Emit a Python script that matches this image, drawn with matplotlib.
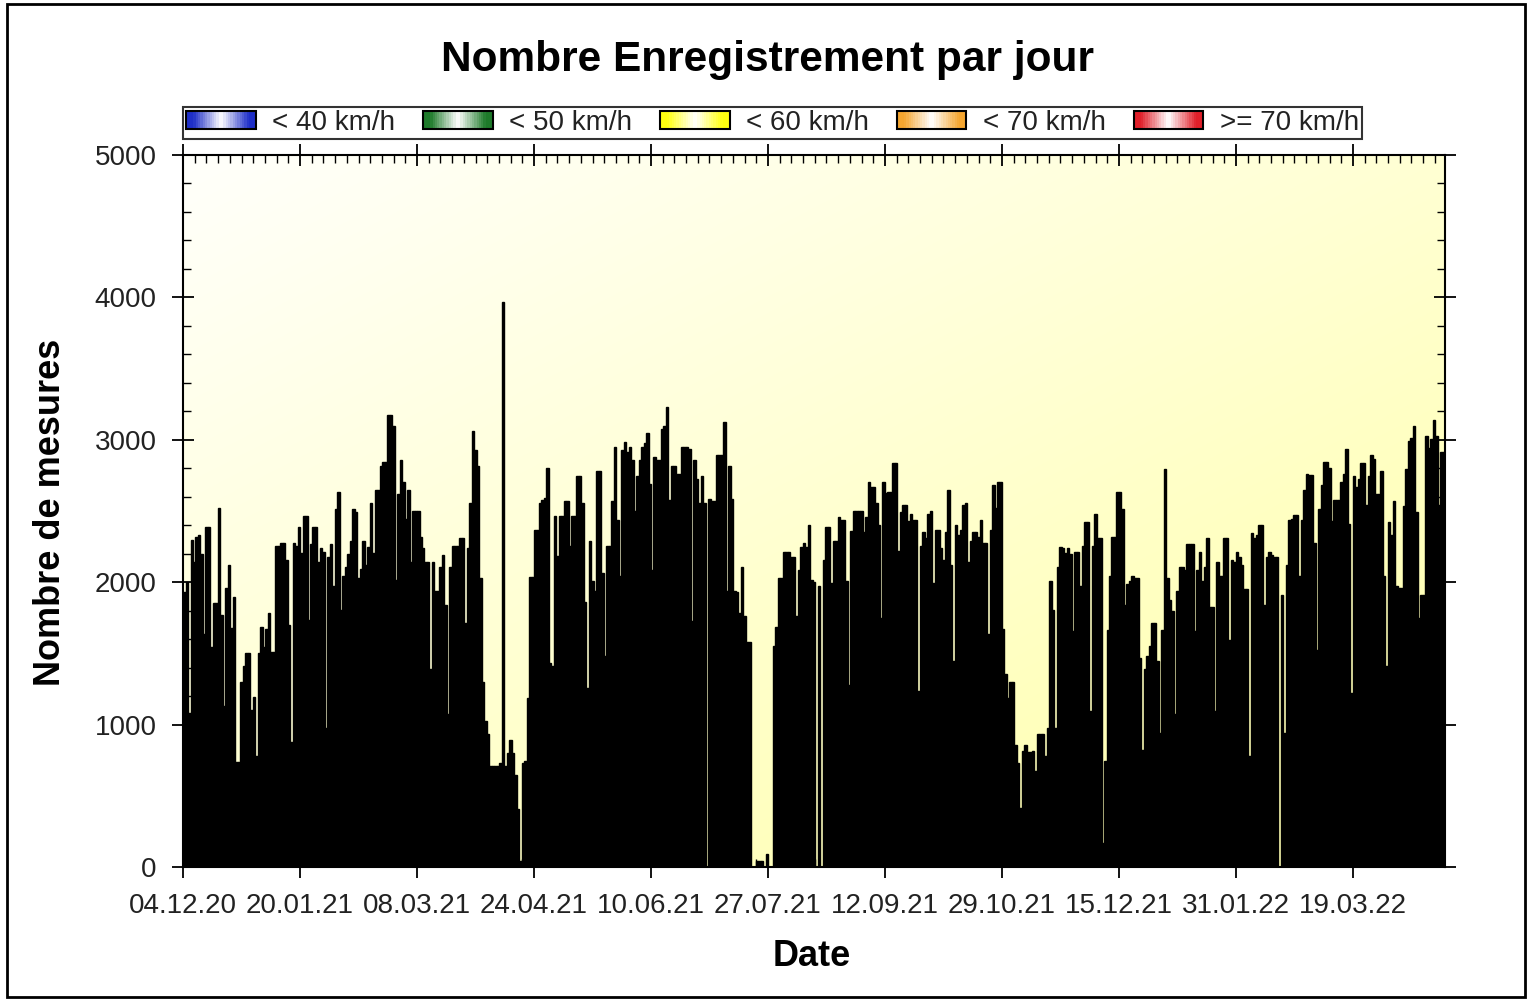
import matplotlib
matplotlib.use("Agg")
import matplotlib.pyplot as plt
import matplotlib.dates as mdates
import matplotlib.colors as mcolors
from matplotlib.legend_handler import HandlerBase
from matplotlib.patches import Patch, Rectangle
from matplotlib.ticker import FixedLocator, MultipleLocator
import numpy as np
import pandas as pd

plt.rcParams["font.family"] = ["Liberation Sans", "DejaVu Sans"]

START = "2020-12-04"
N_DAYS_AXIS = 507
TICK_STEP_DAYS = 47

counts_dec_mar = [
    1934, 2000, 1079, 2297, 2144, 2316, 2329, 2197, 1639, 2387,
    2387, 1545, 1855, 1855, 2518, 1768, 1131, 1960, 2118, 1676,
    1895, 737, 737, 1297, 1408, 1500, 1500, 1105, 1197, 776,
    1500, 1684, 1545, 1671, 1781, 1508, 1508, 2255, 2255, 2276,
    2276, 2158, 1697, 881, 2276, 2255, 2387, 2203, 2466, 2466,
    1737, 2271, 2387, 2387, 2145, 2237, 2210, 973, 2176, 2271,
    1974, 2513, 2632, 1808, 2045, 2105, 2197, 2289, 2513, 2495,
    2032, 2092, 2289, 2124, 2250, 2553, 2203, 2645, 2645, 2816,
    2842, 2842, 3171, 3171, 3100, 2013, 2618, 2855, 2703, 2442,
    2645, 2145, 2500, 2500, 2500, 2316, 2237, 2139, 2139, 1387,
    2139,
]
counts_mar_jun = [
    1939, 1939, 2105, 2192, 1842, 1071, 2105, 2255, 2255, 2255,
    2308, 2308, 1710, 2237, 2553, 3061, 2929, 2816, 2026, 1297,
    1026, 934, 710, 710, 710, 710, 729, 3966, 710, 802,
    894, 802, 644, 407, 39, 729, 744, 1184, 2039, 2039,
    2368, 2368, 2553, 2579, 2592, 2803, 1434, 1408, 2466, 2184,
    2466,
    2466, 2571, 2571, 2255, 2466, 2466, 2745, 2745, 2553, 1860,
    1255, 2289, 2008, 1939, 2782, 2782, 2066, 1481, 2255, 2255,
    2571, 2947, 2439, 2045, 2929, 2987, 2913, 2947, 2855, 2500,
    2745, 2855, 2947, 2974, 3045, 2692, 2087, 2876, 2861, 2861,
    3079, 3098, 3229, 2579, 2816, 2816, 2763, 2763, 2947, 2947,
]
counts_jun_oct = [
    2947, 2934, 1729, 2855, 2724, 2553, 2745, 2553, 0, 2587,
    2571, 2571, 2895, 2895, 2895, 3124, 1939, 2816, 2587, 1939,
    1934, 1781, 2105, 1763, 1579, 1579, 0, 0, 39, 39,
    39, 0, 92, 0, 0, 1553, 1684, 2026, 2026, 2210,
    2210, 2210, 2176, 2176, 1763, 2087, 2250, 2276, 2250, 2403,
    2013,
    2000, 0, 1974, 0, 2158, 2387, 2387, 1992, 2289, 2289,
    2461, 2439, 2439, 2008, 1276, 2361, 2500, 2500, 2500, 2500,
    2350, 2461, 2703, 2671, 2671, 2553, 2403, 1745, 2703, 2624,
    2632, 2632, 2834, 2834, 2218, 2492, 2539, 2539, 2429, 2482,
    2439, 2439, 1237, 2255, 2350, 2308, 2482, 2500, 1992, 2368,
    2368, 2237,
]
counts_oct_jan = [
    2158, 2350, 2650, 2124, 1447, 2403, 2329, 2368, 2539, 2553,
    2145, 2289, 2350, 2350, 2316, 2439, 2276, 2276, 1639, 2368,
    2684, 2518, 2703, 2703, 1671, 1355, 1184, 1297, 1297, 860,
    729, 413, 816, 860, 808, 808, 816, 676, 934, 934,
    934, 776, 973, 2008, 1808, 973, 2105, 2250, 2237, 2203,
    2237, 2197, 1658, 2210, 2210, 1974, 2255, 2421, 2421, 1092,
    2255, 2482, 2308, 2308, 171, 744, 1666, 2045, 2316, 2316,
    2632, 2632, 2513, 1842, 1987, 2008, 2045, 2026, 2026, 1466,
    823, 1387, 1481, 1553, 1710, 1710, 1447, 939, 1666, 2797,
    2026, 1876, 1797, 1071, 1939, 2105, 2105, 2087, 2271, 2271,
    2271,
]
counts_jan_apr = [
    1658, 2087, 2210, 2008, 2105, 2308, 1824, 1824, 1092, 2139,
    2045, 2045, 2308, 2308, 1597, 2158, 2139, 2210, 2176, 2118,
    1955, 1955, 776, 2342, 2308, 2329, 2403, 2403, 1842, 2176,
    2210, 2192, 2176, 2176, 0, 1908, 939, 2118, 2439, 2447,
    2474, 2474, 2045, 2439, 2645, 2763, 2755, 2755, 2276, 1526,
    2513, 2684,
    2842, 2842, 2803, 2429, 2579, 2579, 2579, 2703, 2763, 2934,
    2408, 1224, 2745, 2671, 2724, 2834, 2834, 2539, 2745, 2895,
    2868, 2618, 2618, 2782, 2045, 1408, 2421, 2334, 2571, 1974,
    1960, 1960, 2534, 2797, 2992, 3013, 3098, 2492, 1745, 1913,
    1913, 3026, 2939, 3008, 3140, 3026, 2539, 2913, 2913,
]

legend_labels = ["< 40 km/h", "< 50 km/h", "< 60 km/h", "< 70 km/h", ">= 70 km/h"]
legend_colors = ["#1f2fc8", "#1e7a2a", "#ffff10", "#f5a630", "#e0202a"]


class GradientHandler(HandlerBase):
    """Patch de légende en dégradé couleur -> blanc -> couleur."""

    def __init__(self, color, n=30):
        super().__init__()
        self.color = np.array(mcolors.to_rgb(color))
        self.n = n

    def create_artists(self, legend, orig_handle, xdescent, ydescent,
                       width, height, fontsize, trans):
        x0, y0 = -xdescent, -ydescent
        arts = []
        for i in range(self.n):
            t = (i + 0.5) / self.n
            w = min(1.0, abs(2 * t - 1) * 1.25)
            c = (1 - w) * np.ones(3) + w * self.color
            arts.append(Rectangle((x0 + i * width / self.n, y0), width / self.n * 1.05, height,
                                  facecolor=c, edgecolor="none", transform=trans))
        arts.append(Rectangle((x0, y0), width, height, fill=False, edgecolor="black",
                              lw=1.5, transform=trans))
        return arts


counts = np.concatenate([counts_dec_mar, counts_mar_jun, counts_jun_oct,
                         counts_oct_jan, counts_jan_apr])
days = pd.date_range(START, periods=len(counts), freq="D")

fig = plt.figure(figsize=(15.28, 10.01), dpi=100)
pos = [0.1198, 0.1339, 0.8259, 0.7113]

# fond dégradé blanc -> jaune pâle
bg = fig.add_axes(pos, zorder=0)
yy, xx = np.mgrid[0:1:200j, 0:1:300j]
a = np.clip(0.55 * xx + 0.6 * yy, 0, 1)[..., None]
img = (1 - a) * np.array([1.0, 1.0, 0.985]) + a * np.array([1.0, 1.0, 0.70])
bg.imshow(img, aspect="auto", interpolation="bilinear")
bg.axis("off")

ax = fig.add_axes(pos, zorder=1)
ax.set_facecolor("none")
ax.bar(days, counts, width=1.0, align="edge", color="black", edgecolor="black", linewidth=1.0)

ax.set_xlim(days[0], days[0] + pd.Timedelta(days=N_DAYS_AXIS))
ax.set_ylim(0, 5000)
ax.set_xticks(pd.date_range(START, periods=11, freq=f"{TICK_STEP_DAYS}D"))
ax.xaxis.set_major_formatter(mdates.DateFormatter("%d.%m.%y"))
ax.xaxis.set_minor_locator(FixedLocator(
    mdates.date2num(days[0]) + np.arange(0, N_DAYS_AXIS + 1, TICK_STEP_DAYS / 10)))
ax.yaxis.set_major_locator(MultipleLocator(1000))
ax.yaxis.set_minor_locator(MultipleLocator(200))

ax.tick_params(which="major", direction="inout", length=16, width=1.3, labelsize=20,
               top=True, right=True, labelcolor="#222222")
ax.tick_params(axis="x", which="major", pad=11)
ax.tick_params(axis="y", which="major", pad=11)
ax.tick_params(which="minor", direction="in", length=6, width=1.0, top=True, right=True)
for sp in ax.spines.values():
    sp.set_linewidth(1.5)

handles = [Patch(label=l) for l in legend_labels]
leg = ax.legend(handles=handles,
                handler_map={h: GradientHandler(c) for h, c in zip(handles, legend_colors)},
                loc="lower left", bbox_to_anchor=(0, 1.022), ncol=5, frameon=True,
                fancybox=False, edgecolor="black", fontsize=20, handlelength=2.5,
                handleheight=0.6, handletextpad=0.6, columnspacing=1.0,
                borderpad=0.12, borderaxespad=0)
leg.get_frame().set_linewidth(1.5)
for t in leg.get_texts():
    t.set_color("#222222")

fig.text(0.5026, 0.940, "Nombre Enregistrement par jour", fontsize=30.5,
         fontweight="bold", ha="center", va="center")
fig.text(0.033, 0.4885, "Nombre de mesures", fontsize=26, fontweight="bold",
         rotation=90, ha="center", va="center")
fig.text(0.531, 0.044, "Date", fontsize=26, fontweight="bold", ha="center", va="center")

fig.add_artist(Rectangle((7 / 1528, 4 / 1001), 1518 / 1528, 993 / 1001,
                         transform=fig.transFigure, fill=False, edgecolor="black", lw=2))

fig.savefig("out.png", dpi=100)
